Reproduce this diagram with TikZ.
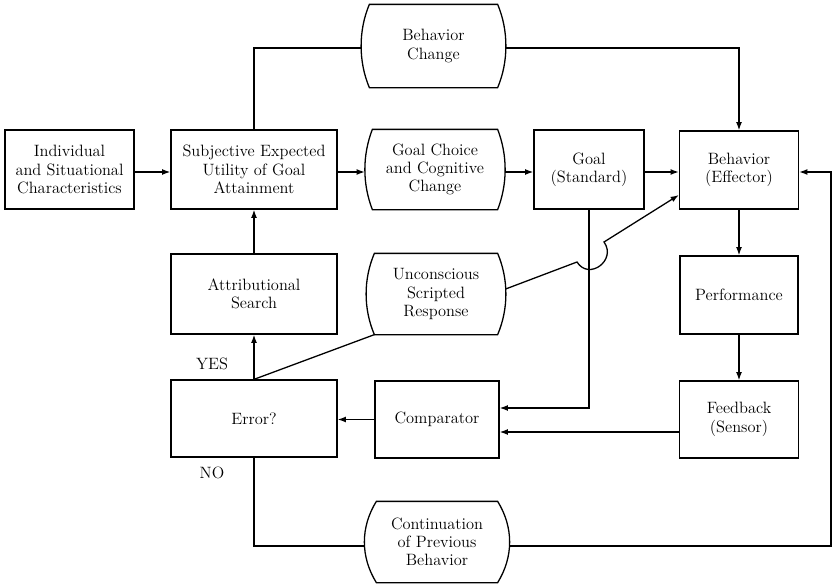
\documentclass[tikz,border=0pt]{standalone}
\usetikzlibrary{arrows.meta,calc}
\newcommand\curvbox[2]{%
  \draw (#1.north west) .. controls ($(#1.north west)+(-#2,26)$) and ($(#1.south west)+(-#2,-26)$) .. (#1.south west)
    -- (#1.south east) .. controls ($(#1.south east)+(#2,-26)$) and ($(#1.north east)+(#2,26)$) .. (#1.north east) -- cycle;}
\begin{document}
\begin{tikzpicture}[x=0.03cm,y=-0.03cm,
  font=\fontsize{14}{15.6}\selectfont,
  line width=1.1pt,
  >={Latex[length=7pt,width=5pt]},
  box/.style={draw, align=center, inner sep=0pt},
  cbox/.style={align=center, inner sep=0pt},
  sz/.style 2 args={minimum width=#1*0.03cm, minimum height=#2*0.03cm},
  lbl/.style={inner sep=0pt}]
\useasboundingbox (0,0) rectangle (832,585);

% nodes
\node[box, sz={129}{79}] (ind) at (69.5,169.5) {Individual\\and Situational\\Characteristics};
\node[box, sz={166}{79}] (seu) at (254,169.5) {Subjective Expected\\Utility of Goal\\Attainment};
\node[cbox, sz={127}{82}] (bc) at (433.5,46) {Behavior\\Change};
\node[cbox, sz={124}{79}] (gc) at (435,169.5) {Goal Choice\\and Cognitive\\Change};
\node[box, sz={110}{79}] (goal) at (589,169.5) {Goal\\(Standard)};
\node[box, sz={119}{78}] (beh) at (739,170) {Behavior\\(Effector)};
\node[box, sz={166}{80}] (attr) at (254,294) {Attributional\\Search};
\node[cbox, sz={122}{80}] (unc) at (436,294) {Unconscious\\Scripted\\Response};
\node[box, sz={118}{78}] (perf) at (739,295) {Performance};
\node[box, sz={166}{77}] (err) at (254,418.5) {Error?};
\node[box, sz={124}{77}] (comp) at (437,419.5) {Comparator};
\node[box, sz={119}{77}] (fb) at (739,419.5) {Feedback\\(Sensor)};
\node[cbox, sz={120}{80}] (cont) at (437,542) {Continuation\\of Previous\\Behavior};

\node[lbl] (yes) at (212,364) {YES};
\node[lbl] (no) at (212,473) {NO};

% curved outlines
\curvbox{bc}{11}
\curvbox{gc}{10}
\curvbox{unc}{11}
\curvbox{cont}{16}

% bulge points
\coordinate (bcL) at ($(bc.west)+(-8,2)$);
\coordinate (bcR) at ($(bc.east)+(8,2)$);
\coordinate (gcL) at ($(gc.west)+(-7.5,2.5)$);
\coordinate (gcR) at ($(gc.east)+(7.5,2.5)$);
\coordinate (uncR) at ($(unc.east)+(8,-5)$);
\coordinate (contL) at ($(cont.west)+(-12,4)$);
\coordinate (contR) at ($(cont.east)+(12,4)$);
\coordinate (rightX) at (831,546);
\coordinate (hopA) at (577,262);
\coordinate (hopB) at (604,242);

% connectors
\draw[->] (ind.east |- 0,172) -- (seu.west |- 0,172);
\draw[->] (seu.east |- gcL) -- (gcL);
\draw[->] (gcR) -- (goal.west |- gcR);
\draw[->] (goal.east |- 0,172) -- (beh.west |- 0,172);
\draw (seu.north) |- (bcL);
\draw[->] (bcR) -| (beh.north);
\draw[->] (beh.south) -- (beh.south |- perf.north);
\draw[->] (perf.south) -- (perf.south |- fb.north);
\draw[->] ($(fb.west)+(0,12.5)$) -- ($(comp.east)+(0,12.5)$);
\draw[->] (goal.south) |- ($(comp.east)+(0,-11.5)$);
\draw[->] (comp.west) -- (err.east |- comp.west);
\draw[->] (err.north) -- (err.north |- attr.south);
\draw[->] (attr.north) -- (attr.north |- seu.south);
\draw (err.north) -- (unc.south west);
\draw[->] (uncR) -- (hopA) .. controls (589,281) and (617,260) .. (hopB) -- ($(beh.west)+(0,25)$);
\draw (err.south) |- (contL);
\draw[->] (contR) -- (rightX) |- (beh.east |- 0,172);
\end{tikzpicture}
\end{document}
